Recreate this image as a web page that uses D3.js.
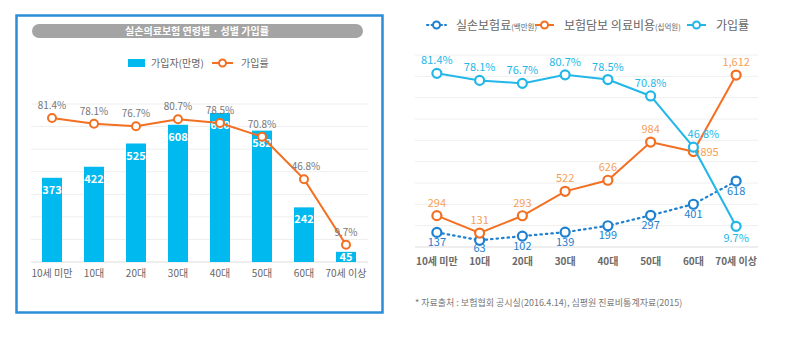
<!DOCTYPE html>
<html>
<head>
<meta charset="utf-8">
<script src="https://cdn.jsdelivr.net/npm/d3@7"></script>
<style>
  body { margin: 0; background: #fff; }
  svg { display: block; font-family: "Noto Sans CJK KR", "Noto Sans", sans-serif; }
</style>
</head>
<body>
<div id="chart"></div>
<script>
const ageGroups = ['10세 미만', '10대', '20대', '30대', '40대', '50대', '60대', '70세 이상'];
const subscribers = [373, 422, 525, 608, 660, 582, 242, 45];        // 가입자(만명)
const joinRate = [81.4, 78.1, 76.7, 80.7, 78.5, 70.8, 46.8, 9.7];  // 가입률(%)
const premium = [137, 63, 102, 139, 199, 297, 401, 618];           // 실손보험료(백만원)
const medCost = [294, 131, 293, 522, 626, 984, 895, 1612];         // 보험담보 의료비용(십억원)
const leftTicks = [100, 200, 300, 400, 500, 600, 700];
const rightTicks = [200, 400, 600, 800, 1000, 1200, 1400, 1600, 1800];

const orange = '#f36f21';
const barBlue = '#00b9ef';
const skyBlue = '#22b7e8';
const darkBlue = '#1d80d0';

const svg = d3.select('#chart').append('svg')
  .attr('width', 785)
  .attr('height', 340);

// ---------- left panel ----------
const left = svg.append('g');

left.append('rect')
  .attr('x', 16.5).attr('y', 15.5)
  .attr('width', 366).attr('height', 297)
  .attr('fill', '#fff')
  .attr('stroke', '#2a8fd6')
  .attr('stroke-width', 2.5);

left.append('rect')
  .attr('x', 32).attr('y', 24)
  .attr('width', 331).attr('height', 14)
  .attr('rx', 7)
  .attr('fill', '#a4a4a4');

left.append('text')
  .attr('x', 197).attr('y', 34.5)
  .attr('text-anchor', 'middle')
  .style('font-size', '10px')
  .style('font-weight', 'bold')
  .style('fill', '#fff')
  .text('실손의료보험 연령별 · 성별 가입률');

// legend
left.append('rect')
  .attr('x', 128).attr('y', 59)
  .attr('width', 17).attr('height', 8)
  .attr('fill', barBlue);
left.append('text')
  .attr('x', 151).attr('y', 66.5)
  .style('font-size', '10px').style('fill', '#666')
  .text('가입자(만명)');
left.append('line')
  .attr('x1', 212).attr('x2', 233).attr('y1', 63).attr('y2', 63)
  .attr('stroke', orange).attr('stroke-width', 2);
left.append('circle')
  .attr('cx', 222.5).attr('cy', 63).attr('r', 3.5)
  .attr('fill', '#fff').attr('stroke', orange).attr('stroke-width', 2);
left.append('text')
  .attr('x', 241).attr('y', 66.5)
  .style('font-size', '10px').style('fill', '#666')
  .text('가입률');

const xL = d3.scaleBand().domain(ageGroups).range([31, 367]);
const yBar = d3.scaleLinear().domain([0, 700]).range([262, 104]);
const yRateL = d3.scaleLinear().domain([0, 100]).range([262, 85]);

left.selectAll('.gridL')
  .data(leftTicks)
  .enter().append('line')
  .attr('x1', 31).attr('x2', 368)
  .attr('y1', d => yBar(d)).attr('y2', d => yBar(d))
  .attr('stroke', '#eeeeee');

left.append('line')
  .attr('x1', 31).attr('x2', 368)
  .attr('y1', yBar(0)).attr('y2', yBar(0))
  .attr('stroke', '#dddddd');

const bw = 20;
left.selectAll('.bar')
  .data(subscribers)
  .enter().append('rect')
  .attr('x', (d, i) => xL(ageGroups[i]) + xL.bandwidth() / 2 - bw / 2)
  .attr('y', d => yBar(d))
  .attr('width', bw)
  .attr('height', d => yBar(0) - yBar(d))
  .attr('fill', barBlue);

left.selectAll('.barLabel')
  .data(subscribers)
  .enter().append('text')
  .attr('x', (d, i) => xL(ageGroups[i]) + xL.bandwidth() / 2)
  .attr('y', d => Math.min(yBar(d) + 16, yBar(0) - 1))
  .attr('text-anchor', 'middle')
  .style('font-size', '11px')
  .style('font-weight', 'bold')
  .style('fill', '#fff')
  .text(d => d);

const lineL = d3.line()
  .x((d, i) => xL(ageGroups[i]) + xL.bandwidth() / 2)
  .y(d => yRateL(d));

left.append('path')
  .datum(joinRate)
  .attr('d', lineL)
  .attr('fill', 'none')
  .attr('stroke', orange)
  .attr('stroke-width', 2);

left.selectAll('.ptL')
  .data(joinRate)
  .enter().append('circle')
  .attr('cx', (d, i) => xL(ageGroups[i]) + xL.bandwidth() / 2)
  .attr('cy', d => yRateL(d))
  .attr('r', 4)
  .attr('fill', '#fff')
  .attr('stroke', orange)
  .attr('stroke-width', 2);

left.selectAll('.rateLabelL')
  .data(joinRate)
  .enter().append('text')
  .attr('x', (d, i) => xL(ageGroups[i]) + xL.bandwidth() / 2 + (i === 6 ? 2 : 0))
  .attr('y', d => yRateL(d) - 9)
  .attr('text-anchor', 'middle')
  .style('font-size', '10px')
  .style('fill', '#777')
  .text(d => d.toFixed(1) + '%');

left.selectAll('.xLabelL')
  .data(ageGroups)
  .enter().append('text')
  .attr('x', d => xL(d) + xL.bandwidth() / 2)
  .attr('y', 277)
  .attr('text-anchor', 'middle')
  .style('font-size', '10px')
  .style('fill', '#666')
  .text(d => d);

// ---------- right panel ----------
const right = svg.append('g');

const xR = d3.scaleBand().domain(ageGroups).range([415.5, 757.5]);
const yAmt = d3.scaleLinear().domain([0, 1800]).range([247, 55]);
const yRateR = d3.scaleLinear().domain([0, 90]).range([247, 55]);
const cx = (d, i) => xR(ageGroups[i]) + xR.bandwidth() / 2;

right.selectAll('.gridR')
  .data(rightTicks)
  .enter().append('line')
  .attr('x1', 415).attr('x2', 758)
  .attr('y1', d => yAmt(d)).attr('y2', d => yAmt(d))
  .attr('stroke', '#eeeeee');

right.append('line')
  .attr('x1', 415).attr('x2', 758)
  .attr('y1', yAmt(0)).attr('y2', yAmt(0))
  .attr('stroke', '#dddddd');

// legend
const legendItems = [
  { x: 427, color: darkBlue, dash: '1.5,3', main: '실손보험료', unit: '(백만원)' },
  { x: 535, color: orange, dash: null, main: '보험담보 의료비용', unit: '(십억원)' },
  { x: 687, color: skyBlue, dash: null, main: '가입률', unit: '' }
];
legendItems.forEach(it => {
  const g = right.append('g');
  g.append('line')
    .attr('x1', it.x).attr('x2', it.x + 19).attr('y1', 25).attr('y2', 25)
    .attr('stroke', it.color).attr('stroke-width', 2)
    .attr('stroke-dasharray', it.dash)
    .attr('stroke-linecap', it.dash ? 'round' : 'butt');
  g.append('circle')
    .attr('cx', it.x + 9.5).attr('cy', 25).attr('r', 3.5)
    .attr('fill', '#fff').attr('stroke', it.color).attr('stroke-width', 2);
  const t = g.append('text')
    .attr('x', it.x + 29).attr('y', 29.5)
    .style('font-size', '12px').style('fill', '#666');
  t.append('tspan').text(it.main);
  if (it.unit) t.append('tspan').style('font-size', '7.5px').text(it.unit);
});

function drawSeries(data, yScale, color, dash, width) {
  right.append('path')
    .datum(data)
    .attr('d', d3.line().x(cx).y(d => yScale(d)))
    .attr('fill', 'none')
    .attr('stroke', color)
    .attr('stroke-width', width)
    .attr('stroke-dasharray', dash)
    .attr('stroke-linecap', dash ? 'round' : 'butt');
  right.selectAll(null)
    .data(data)
    .enter().append('circle')
    .attr('cx', cx)
    .attr('cy', d => yScale(d))
    .attr('r', 4.5)
    .attr('fill', '#fff')
    .attr('stroke', color)
    .attr('stroke-width', 2.2);
}

drawSeries(premium, yAmt, darkBlue, '1.5,4', 2.2);
drawSeries(medCost, yAmt, orange, null, 2);
drawSeries(joinRate, yRateR, skyBlue, null, 2);

// labels
right.selectAll('.premLabel')
  .data(premium)
  .enter().append('text')
  .attr('x', cx)
  .attr('y', d => Math.min(yAmt(d) + 13.5, 251.5))
  .attr('text-anchor', 'middle')
  .style('font-size', '11px')
  .style('fill', darkBlue)
  .text(d => d3.format(',')(d));

right.selectAll('.costLabel')
  .data(medCost)
  .enter().append('text')
  .attr('x', (d, i) => i === 6 ? cx(d, i) + 7 : cx(d, i))
  .attr('y', (d, i) => i === 6 ? yAmt(d) + 4 : yAmt(d) - 9)
  .attr('text-anchor', (d, i) => i === 6 ? 'start' : 'middle')
  .style('font-size', '11px')
  .style('fill', '#f7a055')
  .text(d => d3.format(',')(d));

right.selectAll('.rateLabelR')
  .data(joinRate)
  .enter().append('text')
  .attr('x', (d, i) => i === 6 ? cx(d, i) + 10 : cx(d, i))
  .attr('y', (d, i) => i === 7 ? yRateR(d) + 16 : yRateR(d) - 9)
  .attr('text-anchor', 'middle')
  .style('font-size', '11px')
  .style('fill', skyBlue)
  .text(d => d.toFixed(1) + '%');

right.selectAll('.xLabelR')
  .data(ageGroups)
  .enter().append('text')
  .attr('x', d => xR(d) + xR.bandwidth() / 2)
  .attr('y', 265)
  .attr('text-anchor', 'middle')
  .style('font-size', '10px')
  .style('font-weight', 'bold')
  .style('fill', '#6a6a6a')
  .text(d => d);

right.append('text')
  .attr('x', 415).attr('y', 306)
  .style('font-size', '9px')
  .style('fill', '#777')
  .text('* 자료출처 : 보험협회 공시실(2016.4.14), 심평원 진료비통계자료(2015)');
</script>
</body>
</html>
